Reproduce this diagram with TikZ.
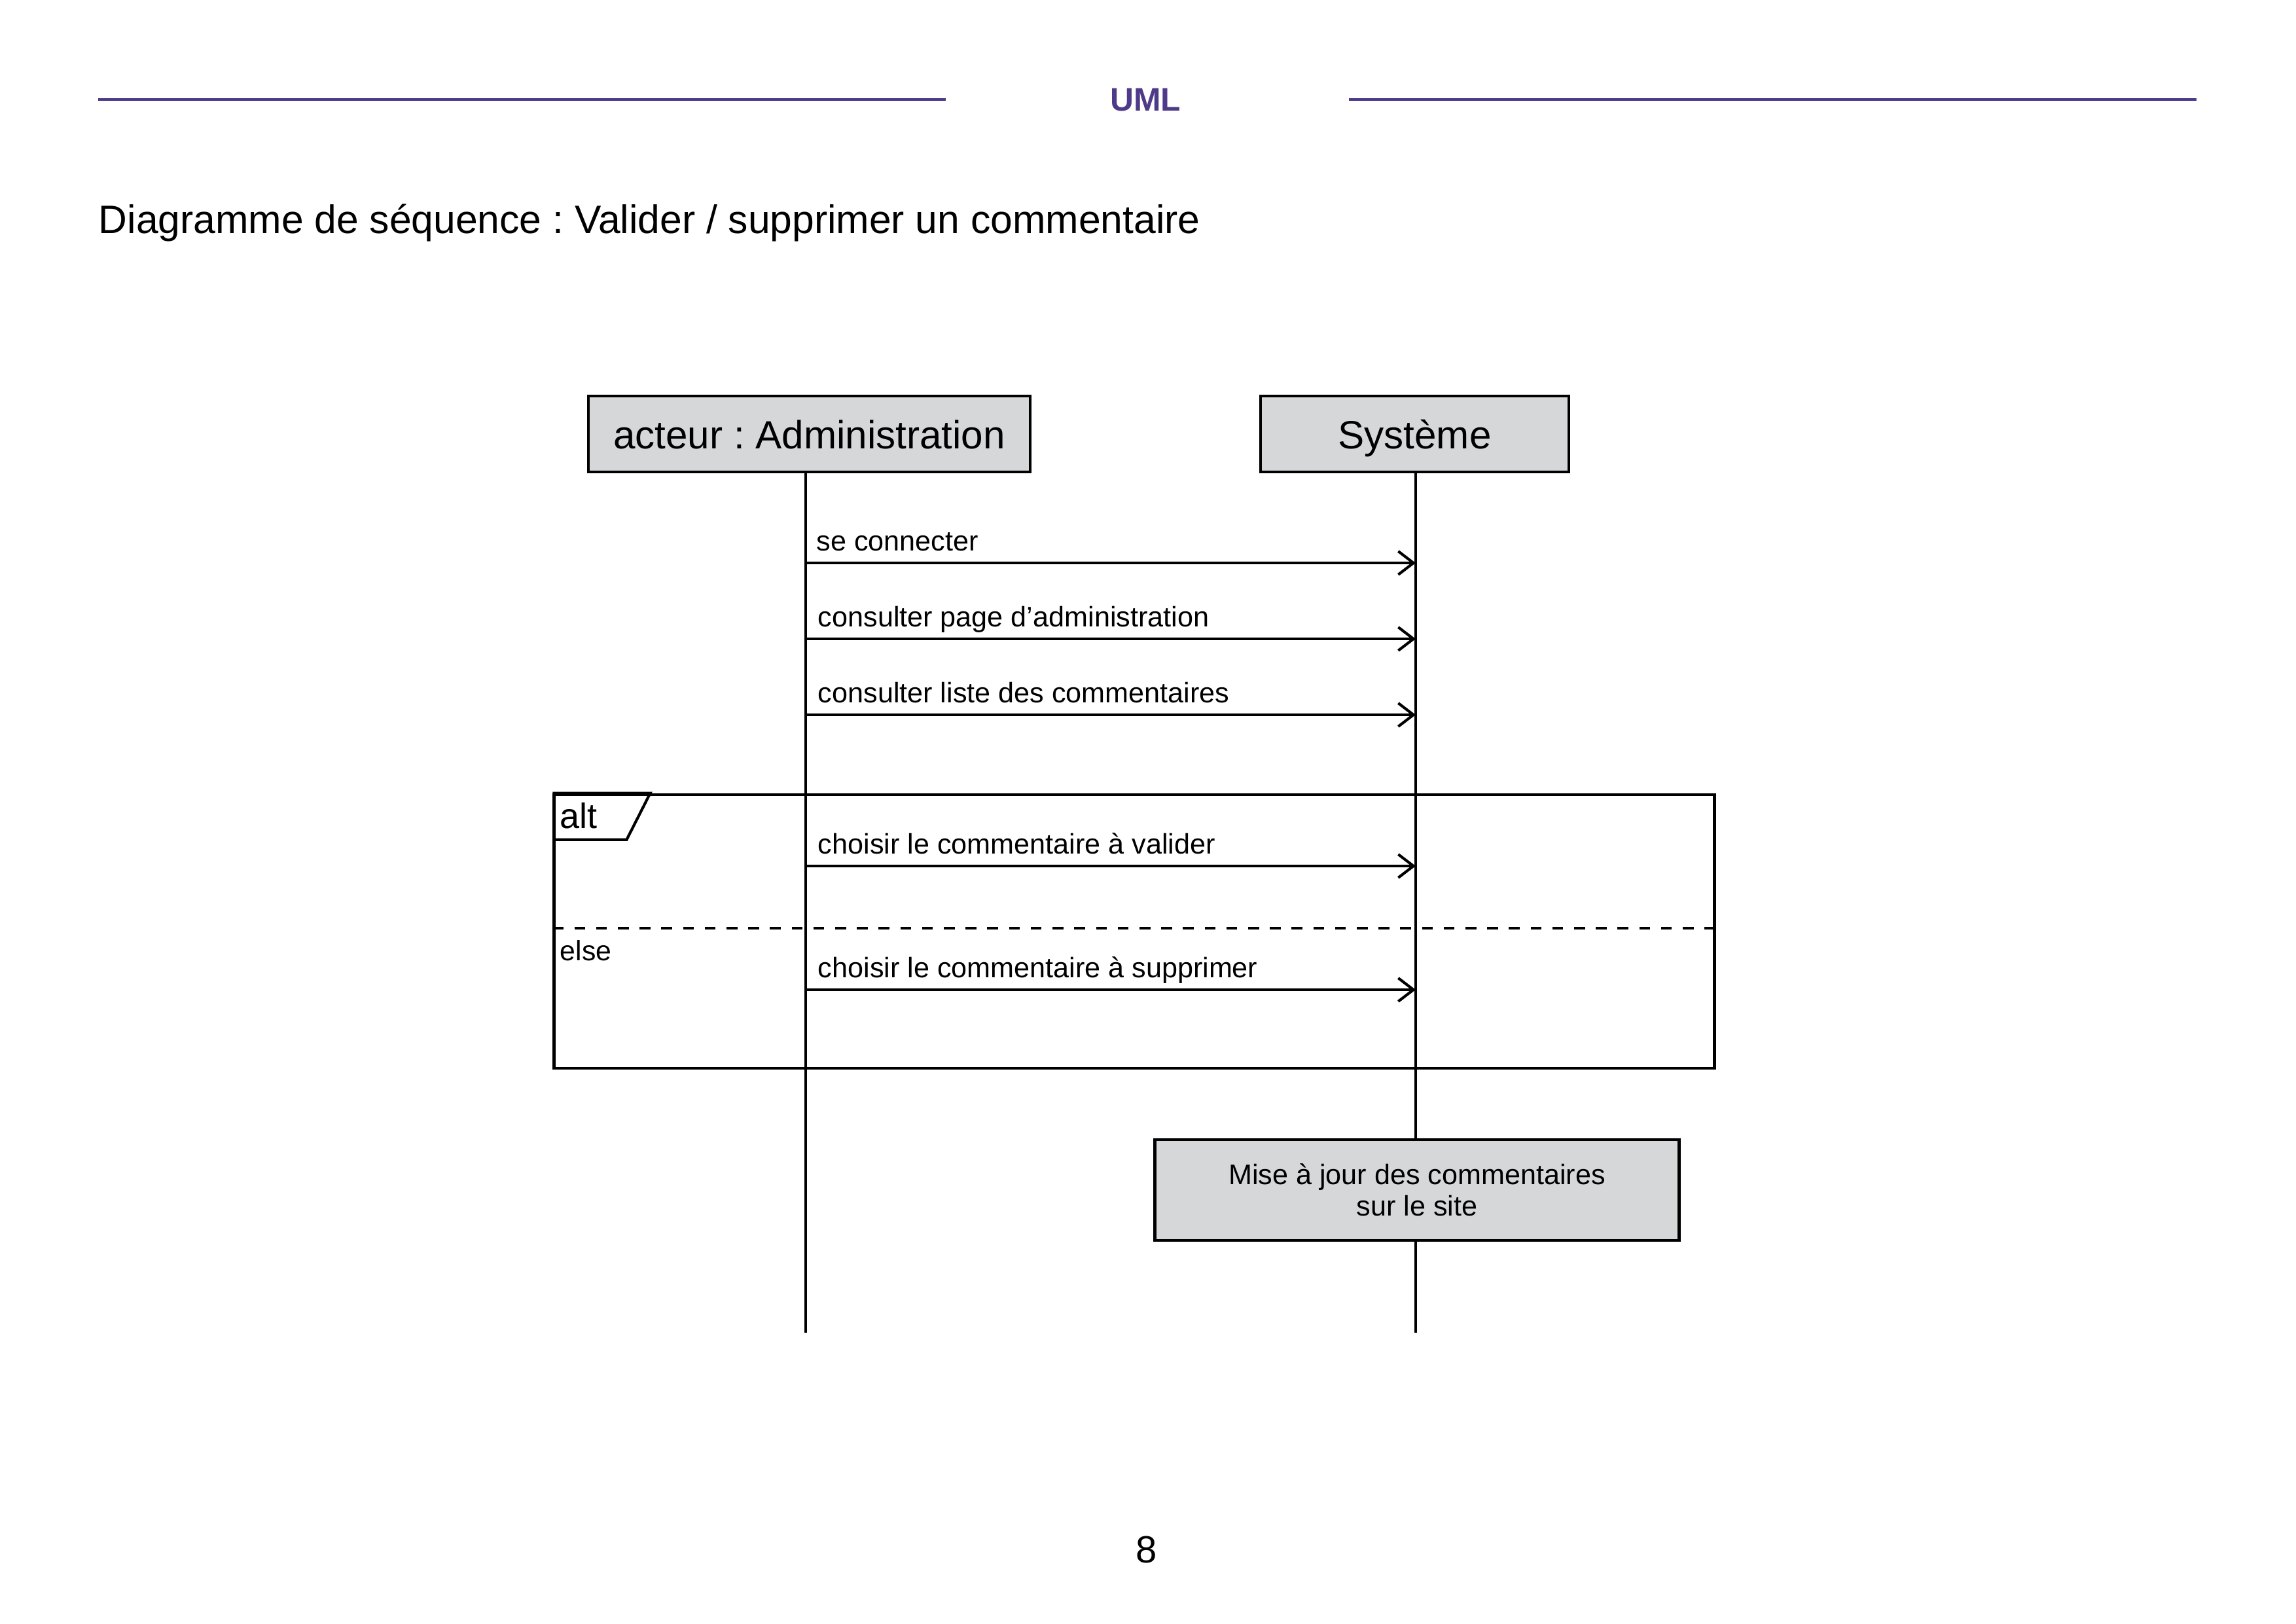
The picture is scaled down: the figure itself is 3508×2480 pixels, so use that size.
\documentclass[tikz,border=0pt]{standalone}
\usepackage{fontspec}
\setmainfont{Liberation Sans}
\usetikzlibrary{arrows.meta}
\definecolor{umlpurple}{RGB}{79,58,138}
\definecolor{boxgrey}{RGB}{214,215,217}
\frenchspacing
\begin{document}
\begin{tikzpicture}[x=0.0084664cm,y=-0.0084664cm,
  actor/.style={draw, line width=1pt, fill=boxgrey, inner sep=0pt, minimum height=27.8pt, text height=13.6pt, text depth=3pt, font=\fontsize{14.5}{17}\selectfont},
  lifeline/.style={line width=0.95pt},
  msg/.style={line width=1pt, -{Straight Barb[length=5.6pt,width=8.6pt]}},
  msglabel/.style={anchor=base west, inner sep=0pt, font=\fontsize{10.4}{12.5}\selectfont},
  hline/.style={draw=umlpurple, line width=0.9pt},
  framebox/.style={draw, line width=1pt, inner sep=0pt},
  sepline/.style={line width=1pt, dash pattern=on 4pt off 4pt},
  notebox/.style={draw, line width=1pt, fill=boxgrey, inner sep=0pt, align=center, font=\fontsize{10.4}{11.5}\selectfont}
]
\useasboundingbox (0,0) rectangle (3508,2480);

% header
\node[text=umlpurple, font=\bfseries\fontsize{12}{14}\selectfont, inner sep=0pt] (uml) at (1750,153) {UML};
\coordinate (hl1) at (150,152);
\coordinate (hl2) at (1445,152);
\coordinate (hr1) at (2061,152);
\coordinate (hr2) at (3356,152);
\draw[hline] (hl1) -- (hl2);
\draw[hline] (hr1) -- (hr2);

% title
\node[anchor=base west, inner sep=0pt, font=\fontsize{14.6}{17}\selectfont] (title) at (150,356) {Diagramme de séquence : Valider / supprimer un commentaire};

% actors
\node[actor, minimum width=162.5pt] (adm) at (1236.5,663) {acteur : Administration};
\node[actor, minimum width=113.5pt] (sys) at (2161.5,663) {Système};

% lifelines
\coordinate (l1top) at (1231,721);
\coordinate (l1bot) at (1231,2036);
\coordinate (l2top) at (2163,721);
\coordinate (l2bot) at (2163,2036);
\draw[lifeline] (l1top) -- (l1bot);
\draw[lifeline] (l2top) -- (l2bot);

% messages
\coordinate (m1s) at (1231,860);  \coordinate (m1e) at (2163,860);
\coordinate (m2s) at (1231,976);  \coordinate (m2e) at (2163,976);
\coordinate (m3s) at (1231,1092); \coordinate (m3e) at (2163,1092);
\coordinate (m4s) at (1231,1323); \coordinate (m4e) at (2163,1323);
\coordinate (m5s) at (1231,1512); \coordinate (m5e) at (2163,1512);
\draw[msg] (m1s) -- (m1e);
\draw[msg] (m2s) -- (m2e);
\draw[msg] (m3s) -- (m3e);
\draw[msg] (m4s) -- (m4e);
\draw[msg] (m5s) -- (m5e);
\node[msglabel] (t1) at (1247,841) {se connecter};
\node[msglabel] (t2) at (1249,957) {consulter page d’administration};
\node[msglabel] (t3) at (1249,1073) {consulter liste des commentaires};
\node[msglabel] (t4) at (1249,1304) {choisir le commentaire à valider};
\node[msglabel] (t5) at (1249,1493) {choisir le commentaire à supprimer};

% alt frame
\node[framebox, minimum width=427.2pt, minimum height=100.8pt] (altframe) at (1733,1423) {};
\draw[line width=1pt] (altframe.north west) -- ++(149,0) -- ++(-36,71) -- ++(-113,0);
\node[anchor=base west, inner sep=0pt, font=\fontsize{13}{15}\selectfont] (altlbl) at (855,1265) {alt};
\coordinate (dsh) at (0,1418);
\draw[sepline] (altframe.west |- dsh) -- (altframe.east |- dsh);
\node[anchor=base west, inner sep=0pt, font=\fontsize{10.3}{12}\selectfont] (elselbl) at (855,1467) {else};

% update box
\node[notebox, minimum width=193pt, minimum height=37.2pt] (maj) at (2165,1818) {Mise à jour des commentaires\\sur le site};

% page number
\node[anchor=base, inner sep=0pt, font=\fontsize{14}{16}\selectfont] (pnum) at (1752,2387) {8};
\end{tikzpicture}
\end{document}
